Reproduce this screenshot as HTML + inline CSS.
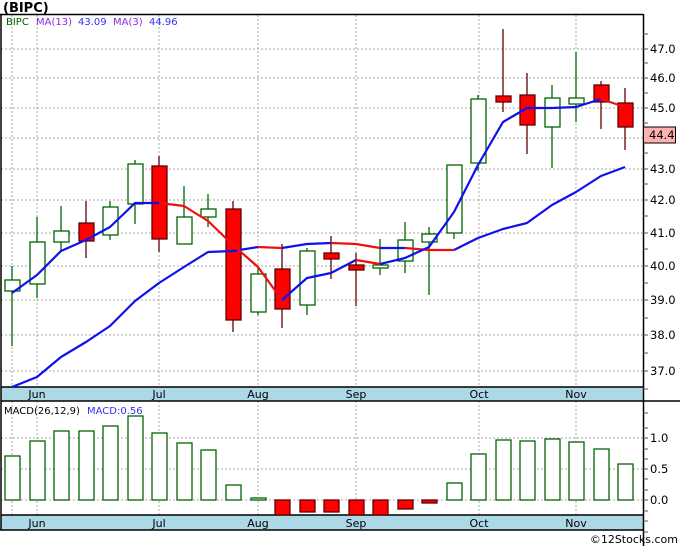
<!DOCTYPE html>
<html><head><meta charset="utf-8"><style>
body{margin:0;background:#fff;}
svg{display:block;font-family:"DejaVu Sans","Liberation Sans",sans-serif;}
</style></head><body>
<svg width="680" height="546" viewBox="0 0 680 546" xmlns="http://www.w3.org/2000/svg">
<rect width="680" height="546" fill="#fff"/>
<text x="3" y="12" font-size="13" font-weight="bold" fill="#000">(BIPC)</text>
<!-- grid -->
<g stroke="#aaa" stroke-width="1" stroke-dasharray="2,2">
<line x1="12" y1="15" x2="12" y2="387"/><line x1="37" y1="15" x2="37" y2="387"/><line x1="159" y1="15" x2="159" y2="387"/><line x1="258" y1="15" x2="258" y2="387"/><line x1="356" y1="15" x2="356" y2="387"/><line x1="479" y1="15" x2="479" y2="387"/><line x1="576" y1="15" x2="576" y2="387"/>
<line x1="1" y1="49" x2="643" y2="49"/><line x1="1" y1="78" x2="643" y2="78"/><line x1="1" y1="108" x2="643" y2="108"/><line x1="1" y1="138" x2="643" y2="138"/><line x1="1" y1="169" x2="643" y2="169"/><line x1="1" y1="200" x2="643" y2="200"/><line x1="1" y1="233" x2="643" y2="233"/><line x1="1" y1="266" x2="643" y2="266"/><line x1="1" y1="300" x2="643" y2="300"/><line x1="1" y1="335" x2="643" y2="335"/><line x1="1" y1="371" x2="643" y2="371"/>
<line x1="12" y1="401" x2="12" y2="515"/><line x1="37" y1="401" x2="37" y2="515"/><line x1="159" y1="401" x2="159" y2="515"/><line x1="258" y1="401" x2="258" y2="515"/><line x1="356" y1="401" x2="356" y2="515"/><line x1="479" y1="401" x2="479" y2="515"/><line x1="576" y1="401" x2="576" y2="515"/>
<line x1="1" y1="438" x2="643" y2="438"/><line x1="1" y1="469" x2="643" y2="469"/><line x1="1" y1="500" x2="643" y2="500"/>
</g>
<!-- date bands -->
<rect x="1" y="387" width="642" height="14" fill="#add8e6"/>
<rect x="1" y="515" width="642" height="15" fill="#add8e6"/>
<g font-size="11" fill="#000" text-anchor="middle">
<text x="37" y="398">Jun</text><text x="159" y="398">Jul</text><text x="258" y="398">Aug</text><text x="356" y="398">Sep</text><text x="479" y="398">Oct</text><text x="576" y="398">Nov</text>
<text x="37" y="527">Jun</text><text x="159" y="527">Jul</text><text x="258" y="527">Aug</text><text x="356" y="527">Sep</text><text x="479" y="527">Oct</text><text x="576" y="527">Nov</text>
</g>
<!-- frame -->
<g stroke="#000" stroke-width="1.5" fill="none">
<line x1="0" y1="14.5" x2="643" y2="14.5"/><line x1="1" y1="14" x2="1" y2="530"/>
<line x1="643.5" y1="14" x2="643.5" y2="546"/>
<line x1="1" y1="387" x2="643" y2="387"/><line x1="1" y1="401" x2="680" y2="401"/>
<line x1="1" y1="515" x2="643" y2="515"/><line x1="0" y1="530" x2="643" y2="530"/>
</g>
<!-- axis ticks -->
<g stroke="#555" stroke-width="1">
<line x1="643" y1="34" x2="648" y2="34"/><line x1="643" y1="49" x2="648" y2="49"/><line x1="643" y1="63" x2="648" y2="63"/><line x1="643" y1="78" x2="648" y2="78"/><line x1="643" y1="93" x2="648" y2="93"/><line x1="643" y1="108" x2="648" y2="108"/><line x1="643" y1="123" x2="648" y2="123"/><line x1="643" y1="153" x2="648" y2="153"/><line x1="643" y1="169" x2="648" y2="169"/><line x1="643" y1="184" x2="648" y2="184"/><line x1="643" y1="200" x2="648" y2="200"/><line x1="643" y1="216" x2="648" y2="216"/><line x1="643" y1="233" x2="648" y2="233"/><line x1="643" y1="249" x2="648" y2="249"/><line x1="643" y1="266" x2="648" y2="266"/><line x1="643" y1="283" x2="648" y2="283"/><line x1="643" y1="300" x2="648" y2="300"/><line x1="643" y1="318" x2="648" y2="318"/><line x1="643" y1="335" x2="648" y2="335"/><line x1="643" y1="353" x2="648" y2="353"/><line x1="643" y1="371" x2="648" y2="371"/><line x1="643" y1="389" x2="648" y2="389"/>
<line x1="643" y1="413" x2="648" y2="413"/><line x1="643" y1="428" x2="648" y2="428"/><line x1="643" y1="438" x2="648" y2="438"/><line x1="643" y1="449" x2="648" y2="449"/><line x1="643" y1="459" x2="648" y2="459"/><line x1="643" y1="469" x2="648" y2="469"/><line x1="643" y1="479" x2="648" y2="479"/><line x1="643" y1="490" x2="648" y2="490"/><line x1="643" y1="500" x2="648" y2="500"/><line x1="643" y1="511" x2="648" y2="511"/><line x1="643" y1="521" x2="648" y2="521"/><line x1="643" y1="532" x2="648" y2="532"/>
</g>
<g font-size="11.5" fill="#000">
<text x="650" y="53">47.0</text><text x="650" y="82">46.0</text><text x="650" y="112">45.0</text><text x="650" y="173">43.0</text><text x="650" y="204">42.0</text><text x="650" y="237">41.0</text><text x="650" y="270">40.0</text><text x="650" y="304">39.0</text><text x="650" y="339">38.0</text><text x="650" y="375">37.0</text>
<text x="650" y="442">1.0</text><text x="650" y="473">0.5</text><text x="650" y="504">0.0</text>
</g>
<rect x="643.5" y="127" width="32" height="16" fill="#ffb0b0" stroke="#000" stroke-width="1"/>
<text x="649" y="139" font-size="11.5" fill="#000">44.4</text>
<!-- legend -->
<g font-size="10">
<text x="6" y="25" fill="#006400">BIPC</text>
<text x="36" y="25" fill="#8a2be2">MA(13)</text><text x="78" y="25" fill="#3030ff">43.09</text>
<text x="113" y="25" fill="#8a2be2">MA(3)</text><text x="149" y="25" fill="#3030ff">44.96</text>
<text x="4" y="414" fill="#000">MACD(26,12,9)</text><text x="87" y="414" fill="#3030ff">MACD:0.56</text>
</g>
<!-- candles -->
<g stroke-width="1.3">
<g stroke="#006400" fill="#fff">
<line x1="12" y1="266" x2="12" y2="346"/><rect x="5" y="280" width="15" height="11"/>
<line x1="37" y1="217" x2="37" y2="298"/><rect x="30" y="242" width="15" height="42"/>
<line x1="61" y1="206" x2="61" y2="252"/><rect x="54" y="231" width="15" height="11"/>
<line x1="110" y1="201" x2="110" y2="240"/><rect x="103" y="207" width="15" height="28"/>
<line x1="135" y1="160" x2="135" y2="224"/><rect x="128" y="164" width="15" height="40"/>
<line x1="184" y1="186" x2="184" y2="244"/><rect x="177" y="217" width="15" height="27"/>
<line x1="208" y1="194" x2="208" y2="227"/><rect x="201" y="209" width="15" height="8"/>
<line x1="258" y1="266" x2="258" y2="315"/><rect x="251" y="274" width="15" height="38"/>
<line x1="307" y1="248" x2="307" y2="315"/><rect x="300" y="251" width="15" height="54"/>
<line x1="380" y1="239" x2="380" y2="275"/><rect x="373" y="265" width="15" height="3"/>
<line x1="405" y1="222" x2="405" y2="273"/><rect x="398" y="240" width="15" height="21"/>
<line x1="429" y1="227" x2="429" y2="295"/><rect x="422" y="234" width="15" height="8"/>
<line x1="454" y1="165" x2="454" y2="239"/><rect x="447" y="165" width="15" height="68"/>
<line x1="478" y1="95" x2="478" y2="171"/><rect x="471" y="99" width="15" height="64"/>
<line x1="552" y1="85" x2="552" y2="168"/><rect x="545" y="98" width="15" height="29"/>
<line x1="576" y1="52" x2="576" y2="122"/><rect x="569" y="98" width="15" height="6"/>
</g>
<g stroke="#600000" fill="#ff0000">
<line x1="86" y1="201" x2="86" y2="258"/><rect x="79" y="223" width="15" height="18"/>
<line x1="159" y1="156" x2="159" y2="252"/><rect x="152" y="166" width="15" height="73"/>
<line x1="233" y1="201" x2="233" y2="332"/><rect x="226" y="209" width="15" height="111"/>
<line x1="282" y1="244" x2="282" y2="328"/><rect x="275" y="269" width="15" height="40"/>
<line x1="331" y1="236" x2="331" y2="279"/><rect x="324" y="253" width="15" height="6"/>
<line x1="356" y1="253" x2="356" y2="306"/><rect x="349" y="265" width="15" height="5"/>
<line x1="503" y1="29" x2="503" y2="112"/><rect x="496" y="96" width="15" height="6"/>
<line x1="527" y1="73" x2="527" y2="154"/><rect x="520" y="95" width="15" height="30"/>
<line x1="601" y1="81" x2="601" y2="129"/><rect x="594" y="85" width="15" height="17"/>
<line x1="625" y1="88" x2="625" y2="150"/><rect x="618" y="103" width="15" height="24"/>
</g>
</g>
<!-- MA13 -->
<g fill="none" stroke-width="2.2" stroke-linejoin="round">
<polyline stroke="#1010ee" points="12,387 37,377 61,357 86,342 110,326 135,301 159,283 184,267 208,252 233,251 258,247"/>
<polyline stroke="#ee1010" points="258,247 282,248"/>
<polyline stroke="#1010ee" points="282,248 307,244 331,243"/>
<polyline stroke="#ee1010" points="331,243 356,244 380,248"/>
<polyline stroke="#1010ee" points="380,248 405,248"/>
<polyline stroke="#ee1010" points="405,248 429,250 454,250"/>
<polyline stroke="#1010ee" points="454,250 478,238 503,229 527,223 552,205 576,192 601,176 625,167"/>
<!-- MA3 -->
<polyline stroke="#1010ee" points="12,293 37,275 61,251 86,240 110,227 135,203 159,203"/>
<polyline stroke="#ee1010" points="159,203 184,206 208,221 233,245 258,267 282,300"/>
<polyline stroke="#1010ee" points="282,300 307,278 331,273 356,260"/>
<polyline stroke="#ee1010" points="356,260 380,264"/>
<polyline stroke="#1010ee" points="380,264 405,258 429,247 454,212 478,165 503,122 527,108 552,108 576,107 601,99"/>
<polyline stroke="#ee1010" points="601,99 625,107"/>
</g>
<!-- MACD bars -->
<g stroke="#006400" stroke-width="1.3" fill="#fff">
<rect x="5" y="456" width="15" height="44"/><rect x="30" y="441" width="15" height="59"/><rect x="54" y="431" width="15" height="69"/><rect x="79" y="431" width="15" height="69"/><rect x="103" y="426" width="15" height="74"/><rect x="128" y="416" width="15" height="84"/><rect x="152" y="433" width="15" height="67"/><rect x="177" y="443" width="15" height="57"/><rect x="201" y="450" width="15" height="50"/><rect x="226" y="485" width="15" height="15"/><rect x="251" y="498" width="15" height="2"/>
<rect x="447" y="483" width="15" height="17"/><rect x="471" y="454" width="15" height="46"/><rect x="496" y="440" width="15" height="60"/><rect x="520" y="441" width="15" height="59"/><rect x="545" y="439" width="15" height="61"/><rect x="569" y="442" width="15" height="58"/><rect x="594" y="449" width="15" height="51"/><rect x="618" y="464" width="15" height="36"/>
</g>
<g stroke="#600000" stroke-width="1.3" fill="#ff0000">
<rect x="275" y="500" width="15" height="15"/><rect x="300" y="500" width="15" height="12"/><rect x="324" y="500" width="15" height="12"/><rect x="349" y="500" width="15" height="15"/><rect x="373" y="500" width="15" height="15"/><rect x="398" y="500" width="15" height="9"/><rect x="422" y="500" width="15" height="3"/>
</g>
<text x="678" y="543" font-size="11" fill="#000" text-anchor="end">©12Stocks.com</text>
</svg>
</body></html>
